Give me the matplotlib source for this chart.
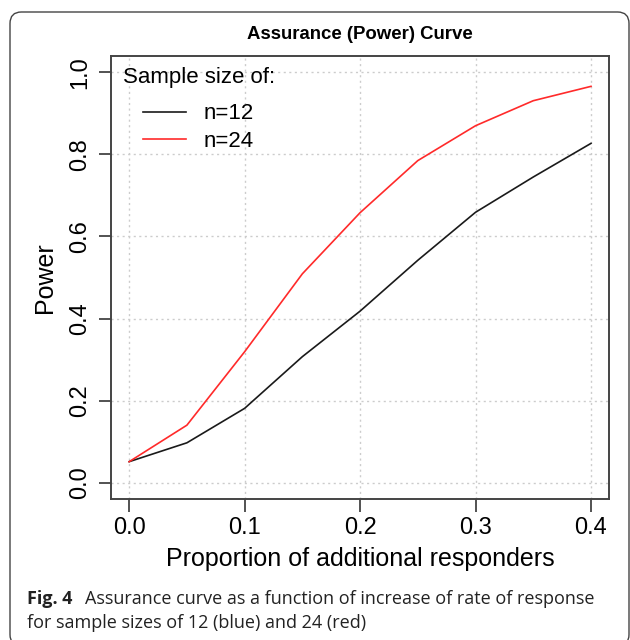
import matplotlib
matplotlib.use("Agg")
import matplotlib.pyplot as plt
from matplotlib.patches import FancyBboxPatch
from matplotlib.lines import Line2D

# Data
proportion = [0.0, 0.05, 0.10, 0.15, 0.20, 0.25, 0.30, 0.35, 0.40]
power_n12 = [0.051, 0.097, 0.181, 0.307, 0.418, 0.542, 0.659, 0.745, 0.827]
power_n24 = [0.051, 0.140, 0.319, 0.509, 0.658, 0.785, 0.870, 0.931, 0.966]
x_ticks = [0.0, 0.1, 0.2, 0.3, 0.4]
y_ticks = [0.0, 0.2, 0.4, 0.6, 0.8, 1.0]
series_labels = ["n=12", "n=24"]
series_colors = ["#1a1a1a", "#ff2a2a"]

W, H = 630, 640
fig = plt.figure(figsize=(W / 100, H / 100), dpi=100)
fig.patch.set_facecolor("white")

# rounded border around figure + caption
border = FancyBboxPatch((10 / W, -6 / H), (629 - 10) / W, (628 + 6) / H,
                        boxstyle="round,pad=0,rounding_size=0.018",
                        transform=fig.transFigure, facecolor="none",
                        edgecolor="#444444", linewidth=1.0)
fig.patches.append(border)

ax = fig.add_axes([110.7 / W, 1 - 499 / H, (609 - 110.7) / W, (499 - 56) / H])
font = "Liberation Sans"

for xv, yv, lab, col in zip([proportion, proportion], [power_n12, power_n24],
                            series_labels, series_colors):
    ax.plot(xv, yv, color=col, linewidth=1.2, label=lab)

ax.set_xlim(-0.016, 0.4156)
ax.set_ylim(-0.04, 1.04)
ax.set_xticks(x_ticks)
ax.set_yticks(y_ticks)
ax.set_xticklabels([f"{v:.1f}" for v in x_ticks], fontsize=17, family=font)
ax.set_yticklabels([f"{v:.1f}" for v in y_ticks], fontsize=17, family=font,
                   rotation=90, va="center")
ax.tick_params(axis="both", direction="out", length=9, width=1.3, color="#444444")
ax.tick_params(axis="x", pad=4)
ax.tick_params(axis="y", pad=5)
for s in ax.spines.values():
    s.set_color("#444444")
    s.set_linewidth(1.4)
ax.grid(True, color="#cccccc", linestyle=(0, (1.5, 2.5)), linewidth=1.0)
ax.set_axisbelow(True)

ax.set_xlabel("Proportion of additional responders", fontsize=18, family=font)
ax.set_ylabel("Power", fontsize=18, family=font)
ax.xaxis.set_label_coords(0.5, -0.108)
ax.yaxis.set_label_coords(-0.108, 0.5)
ax.set_title("Assurance (Power) Curve", fontsize=13.4, family=font, fontweight="bold", pad=12)

# legend: title text + entries
ax.text(0.0247, 0.9384, "Sample size of:", transform=ax.transAxes, fontsize=16,
        family=font, ha="left", va="baseline")
handles = [Line2D([], [], color=c, linewidth=1.2) for c in series_colors]
ax.legend(handles, series_labels, loc="upper left", bbox_to_anchor=(0.064, 0.893),
          frameon=False, prop={"family": font, "size": 16}, handlelength=1.95,
          handletextpad=0.8, borderpad=0, borderaxespad=0, labelspacing=0.3)

# caption
cap_font = "Open Sans"
fig.text(27 / W, 1 - 604 / H, "Fig. 4", fontsize=13, family=cap_font,
         fontweight="bold", va="baseline", ha="left", color="#222222")
fig.text(85 / W, 1 - 604 / H, "Assurance curve as a function of increase of rate of response",
         fontsize=13, family=cap_font, va="baseline", ha="left", color="#222222")
fig.text(27 / W, 1 - 628 / H, "for sample sizes of 12 (blue) and 24 (red)",
         fontsize=13, family=cap_font, va="baseline", ha="left", color="#222222")

fig.savefig("out.png", dpi=100)
